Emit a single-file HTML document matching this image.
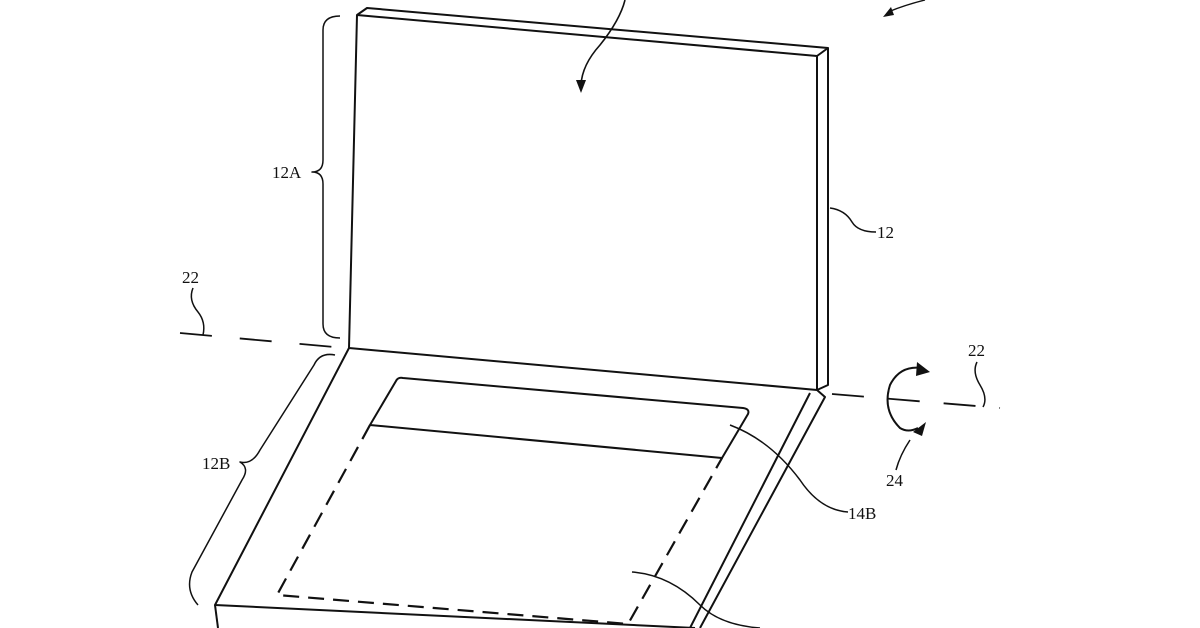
<!DOCTYPE html>
<html><head><style>
body{margin:0;background:#fff;}
svg{display:block}
text{font-family:"Liberation Serif",serif;font-size:17px;fill:#111}
</style></head><body>
<svg width="1200" height="628" viewBox="0 0 1200 628" xmlns="http://www.w3.org/2000/svg">
<g fill="none" stroke="#111" stroke-width="2" stroke-linejoin="round">
<!-- screen -->
<polygon points="357,15 817,56 817,390 349,348 "/>
<polyline points="357,15 367,8 828,48 817,56"/>
<polyline points="828,48 828,385 817,390"/>
<!-- base -->
<polyline points="349,348 215,605 695,628"/>
<polyline points="817,390 825,397 700,628"/>
<line x1="810" y1="393" x2="690" y2="628"/>
<line x1="215" y1="605" x2="218" y2="628"/>
<!-- touch bar -->
<path d="M403,378 L743,408 Q750,409 748,414 L722,458 L370,425 L396,381 Q398,377 403,378 Z"/>
<!-- dashed keyboard -->
<polyline points="370,425 277,595 628,624 722,458" stroke-dasharray="16,9" stroke-width="2.2"/>
<!-- axis -->
<line x1="180" y1="333" x2="345" y2="348" stroke-dasharray="32,28" stroke-width="1.8"/>
<line x1="832" y1="394" x2="1000" y2="408" stroke-dasharray="32,24" stroke-width="1.8"/>
<!-- brace 12A -->
<path d="M340,16 Q323,16 323,30 L323,160 Q323,172 312,172 Q323,172 323,184 L323,324 Q323,338 340,338" stroke-width="1.5"/>
<!-- brace 12B -->
<path d="M335,355 Q320,352 314,365 L260,450 Q252,465 240,462 Q250,468 242,480 L192,572 Q185,590 198,605" stroke-width="1.5"/>
<!-- leaders -->
<path d="M830,208 Q845,210 852,222 Q858,232 876,232" stroke-width="1.5"/>
<path d="M193,288 Q188,300 198,312 Q206,322 203,335" stroke-width="1.5"/>
<path d="M977,362 Q972,372 980,385 Q988,398 983,407" stroke-width="1.5"/>
<path d="M730,425 Q770,440 800,480 Q820,510 848,512" stroke-width="1.5"/>
<path d="M632,572 Q670,575 700,605 Q720,625 760,628" stroke-width="1.5"/>
<path d="M910,440 Q900,455 896,470" stroke-width="1.5"/>
<!-- rotation arrow -->
<path d="M922,368 Q900,365 890,385 Q882,410 900,428 Q908,433 918,428" stroke-width="2"/>
<!-- top arrow -->
<path d="M625,0 Q620,20 600,45 Q582,65 581,85" stroke-width="1.6"/>
<path d="M888,12 Q905,5 925,0" stroke-width="1.4"/>
</g>
<g fill="#111">
<polygon points="576,80 586,80 581,93"/>
<polygon points="917,362 930,372 916,376"/>
<polygon points="913,432 926,422 922,436"/>
<polygon points="883,17 891,7 894,15"/>
</g>
<text x="272" y="178">12A</text>
<text x="877" y="238">12</text>
<text x="182" y="283">22</text>
<text x="968" y="356">22</text>
<text x="886" y="486">24</text>
<text x="848" y="519">14B</text>
<text x="202" y="469">12B</text>
<text x="762" y="640">14A</text>
</svg>
</body></html>
